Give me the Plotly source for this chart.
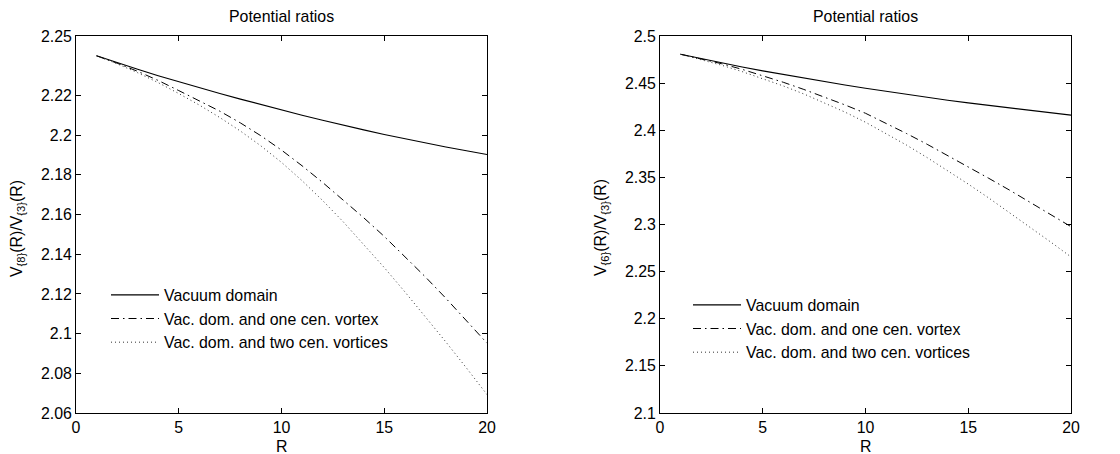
import plotly.graph_objects as go

R = list(range(1, 21))

# Left panel: V{8}/V{3}
left_vacuum = [2.2400, 2.2365, 2.2332, 2.2300, 2.2269, 2.2239, 2.2210, 2.2182, 2.2154, 2.2127,
               2.2101, 2.2075, 2.2050, 2.2027, 2.2004, 2.1982, 2.1961, 2.1941, 2.1922, 2.1903]
left_one = [2.2400, 2.2363, 2.2322, 2.2276, 2.2225, 2.2175, 2.2121, 2.2062, 2.1997, 2.1925,
            2.1846, 2.1762, 2.1674, 2.1584, 2.1490, 2.1390, 2.1286, 2.1178, 2.1067, 2.0952]
left_two = [2.2400, 2.2360, 2.2315, 2.2265, 2.2210, 2.2152, 2.2089, 2.2021, 2.1946, 2.1863,
            2.1771, 2.1671, 2.1564, 2.1451, 2.1333, 2.1211, 2.1086, 2.0958, 2.0827, 2.0693]

# Right panel: V{6}/V{3}
right_vacuum = [2.4806, 2.4759, 2.4714, 2.4671, 2.4630, 2.4591, 2.4553, 2.4516, 2.4480, 2.4445,
                2.4412, 2.4380, 2.4349, 2.4319, 2.4290, 2.4263, 2.4236, 2.4210, 2.4185, 2.4160]
right_one = [2.4806, 2.4759, 2.4706, 2.4646, 2.4580, 2.4509, 2.4433, 2.4353, 2.4269, 2.4180,
             2.4075, 2.3965, 2.3851, 2.3733, 2.3610, 2.3490, 2.3366, 2.3239, 2.3110, 2.2977]
right_two = [2.4806, 2.4751, 2.4690, 2.4622, 2.4548, 2.4470, 2.4385, 2.4293, 2.4193, 2.4085,
             2.3967, 2.3842, 2.3710, 2.3572, 2.3429, 2.3281, 2.3129, 2.2974, 2.2816, 2.2656]

series_names = ["Vacuum domain", "Vac. dom. and one cen. vortex", "Vac. dom. and two cen. vortices"]

x_ticks = [0, 5, 10, 15, 20]
left_yticks = [2.06, 2.08, 2.10, 2.12, 2.14, 2.16, 2.18, 2.20, 2.22, 2.25]
left_yticktext = ["2.06", "2.08", "2.1", "2.12", "2.14", "2.16", "2.18", "2.2", "2.22", "2.25"]
right_yticks = [2.10, 2.15, 2.20, 2.25, 2.30, 2.35, 2.40, 2.45, 2.50]
right_yticktext = ["2.1", "2.15", "2.2", "2.25", "2.3", "2.35", "2.4", "2.45", "2.5"]

W, H = 1120, 454
FONT = "Liberation Sans, Arial, Helvetica, sans-serif"
FS = 15.9

styles = [
    dict(color="black", width=1.1, dash="solid"),
    dict(color="black", width=1.0, dash="8px,4px,1.5px,4px"),
    dict(color="#333333", width=1.0, dash="1px,3px"),
]

fig = go.Figure()
for i, (ys, name) in enumerate(zip([left_vacuum, left_one, left_two], series_names)):
    fig.add_trace(go.Scatter(x=R, y=ys, mode="lines", name=name, line=styles[i],
                             xaxis="x", yaxis="y", legend="legend"))
for i, (ys, name) in enumerate(zip([right_vacuum, right_one, right_two], series_names)):
    fig.add_trace(go.Scatter(x=R, y=ys, mode="lines", name=name, line=styles[i],
                             xaxis="x2", yaxis="y2", legend="legend2"))

L_dom = [76 / W, 487 / W]
R_dom = [660 / W, 1071 / W]
Y_dom = [1 - 413 / H, 1 - 36 / H]

axis_common = dict(showline=True, linecolor="black", linewidth=1, mirror="ticks",
                   ticks="inside", ticklen=5, tickcolor="black", showgrid=False,
                   zeroline=False, tickfont=dict(family=FONT, size=FS, color="black"),
                   automargin=False)

fig.update_layout(
    width=W, height=H,
    margin=dict(l=0, r=0, t=0, b=0),
    paper_bgcolor="white", plot_bgcolor="white",
    font=dict(family=FONT, size=FS, color="black"),
    xaxis=dict(domain=L_dom, anchor="y", range=[0, 20], tickvals=x_ticks, **axis_common),
    yaxis=dict(domain=Y_dom, anchor="x", range=[2.06, 2.25], tickvals=left_yticks,
               ticktext=left_yticktext, **axis_common),
    xaxis2=dict(domain=R_dom, anchor="y2", range=[0, 20], tickvals=x_ticks, **axis_common),
    yaxis2=dict(domain=Y_dom, anchor="x2", range=[2.1, 2.5], tickvals=right_yticks,
                ticktext=right_yticktext, **axis_common),
    legend=dict(x=106 / W, y=1 - 278 / H, xanchor="left", yanchor="top",
                bgcolor="rgba(0,0,0,0)", font=dict(family=FONT, size=FS, color="black"),
                itemwidth=48, tracegroupgap=0),
    legend2=dict(x=688 / W, y=1 - 288 / H, xanchor="left", yanchor="top",
                 bgcolor="rgba(0,0,0,0)", font=dict(family=FONT, size=FS, color="black"),
                 itemwidth=48, tracegroupgap=0),
    showlegend=True,
)

ann = []
for dom, ylab in [(L_dom, "V<sub>{8}</sub>(R)/V<sub>{3}</sub>(R)"),
                  (R_dom, "V<sub>{6}</sub>(R)/V<sub>{3}</sub>(R)")]:
    cx = (dom[0] + dom[1]) / 2
    ann.append(dict(text="Potential ratios", x=cx, y=1 - 16 / H, xref="paper", yref="paper",
                    showarrow=False, xanchor="center", yanchor="middle",
                    font=dict(family=FONT, size=FS, color="black")))
    ann.append(dict(text="R", x=cx, y=1 - 446 / H, xref="paper", yref="paper",
                    showarrow=False, xanchor="center", yanchor="middle",
                    font=dict(family=FONT, size=FS, color="black")))
    ann.append(dict(text=ylab, x=dom[0] - 59 / W, y=1 - 228 / H, xref="paper", yref="paper",
                    showarrow=False, xanchor="center", yanchor="middle", textangle=-90,
                    font=dict(family=FONT, size=FS, color="black")))
fig.update_layout(annotations=ann)

fig.write_html("out.html")
